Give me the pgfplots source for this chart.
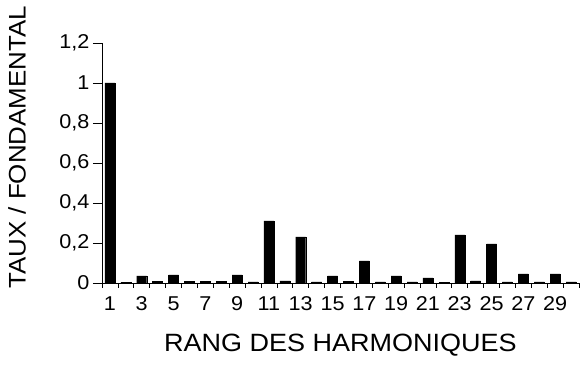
\documentclass[border=0pt]{standalone}
\usepackage{pgfplots}
\pgfplotsset{compat=1.18}
\usepackage{fontspec}
\setmainfont[FakeStretch=1.08]{Liberation Sans}
\begin{document}
\begin{tikzpicture}
\begin{axis}[
  scale only axis, width=477pt, height=240pt,
  xmin=0.5, xmax=30.5, ymin=0, ymax=1.2,
  axis x line=bottom, axis y line=left,
  axis line style={-, line width=0.9pt, black},
  ybar, bar width=10pt,
  xtick={1,3,...,29},
  minor xtick={0.5,1.5,...,30.5},
  ytick={0,0.2,0.4,0.6,0.8,1,1.2},
  major x tick style={draw=none},
  tick align=outside,
  major tick length=9pt, minor tick length=5pt,
  tick style={black, line width=0.7pt},
  /pgf/number format/use comma,
  /pgf/number format/assume math mode=true,
  tick label style={font=\fontsize{20}{22}\selectfont},
  xticklabel style={yshift=-1pt},
  every axis x label/.style={at={(axis description cs:0.5,-0.258)}, anchor=center,
    font=\fontsize{25}{28}\selectfont},
  every axis y label/.style={at={(axis description cs:-0.178,0.565)}, anchor=center,
    rotate=90, font=\fontsize{24}{27}\selectfont},
  xlabel={RANG DES HARMONIQUES},
  ylabel={TAUX / FONDAMENTAL},
]
\addplot[fill=black, draw=black] coordinates {
(1,1.0) (2,0.004) (3,0.035) (4,0.008) (5,0.04) (6,0.008) (7,0.008) (8,0.008)
(9,0.04) (10,0.005) (11,0.31) (12,0.01) (13,0.23) (14,0.005) (15,0.035)
(16,0.008) (17,0.11) (18,0.005) (19,0.035) (20,0.005) (21,0.025) (22,0.002)
(23,0.24) (24,0.01) (25,0.195) (26,0.005) (27,0.045) (28,0.005) (29,0.045) (30,0.006)
};
\end{axis}
\path (current axis.south west) ++(-102pt,-88pt) rectangle ++(587pt,371pt);
\end{tikzpicture}
\end{document}
